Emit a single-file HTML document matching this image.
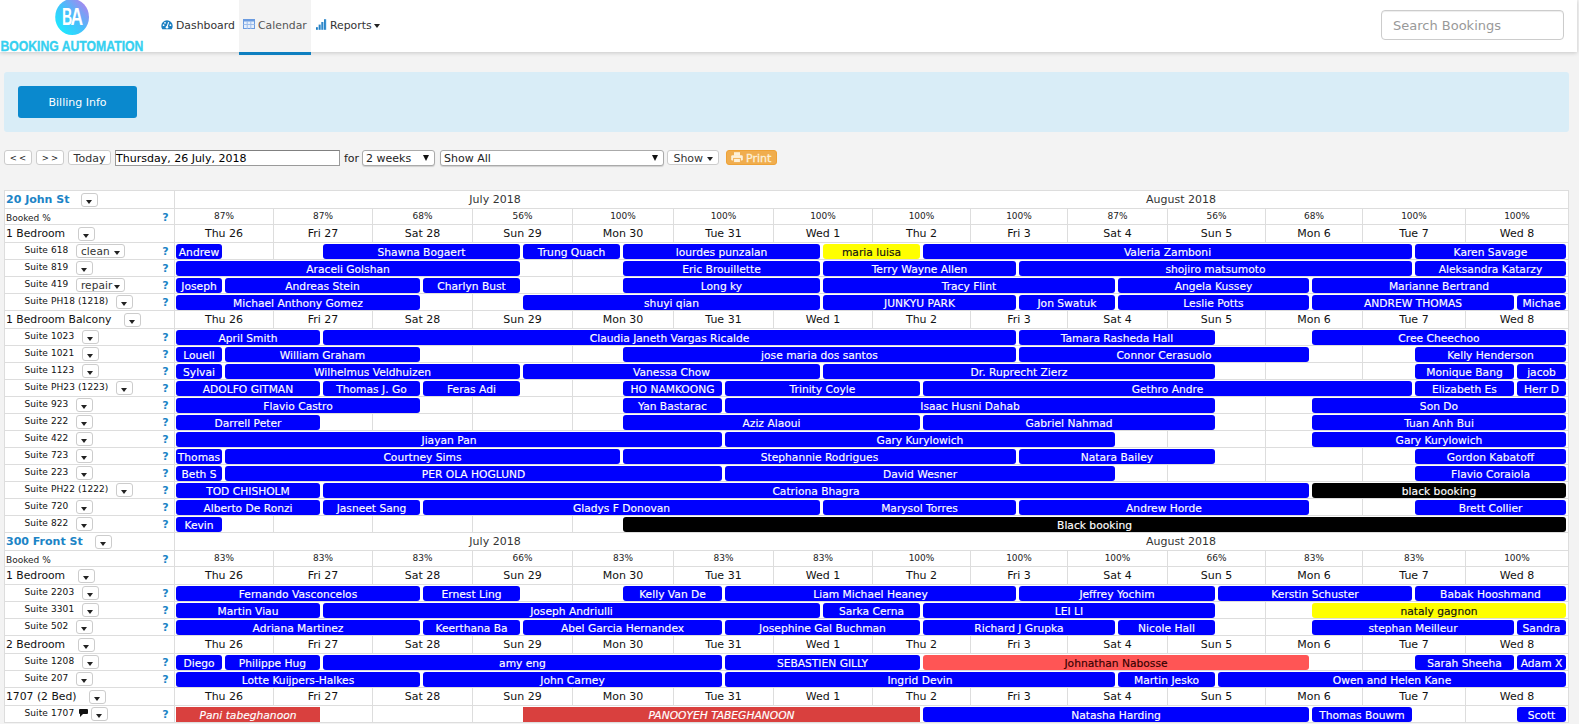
<!DOCTYPE html>
<html lang="en">
<head>
<meta charset="utf-8">
<title>Booking Automation - Calendar</title>
<style>
*{box-sizing:border-box;margin:0;padding:0}
html,body{width:1579px;height:724px;overflow:hidden;background:#f3f3f3}
body{font-family:"DejaVu Sans","Liberation Sans",sans-serif;font-size:11px;color:#000;position:relative}
#pg{position:absolute;left:0;top:0;width:1579px;height:724px;overflow:hidden}
#pg div,#pg svg.ab{position:absolute}
.hdr{left:0;top:0;width:1577px;height:52px;background:#fff;box-shadow:0 1px 4px rgba(0,0,0,.18)}
.tab{left:239px;top:0;width:72px;height:55px;background:#f3f3f3;border-bottom:3px solid #0e7fc0}
.nav{top:19px;height:14px;line-height:14px;font-size:10.85px;color:#333;white-space:nowrap}
.srch{left:1381px;top:10px;width:183px;height:30px;border:1px solid #ccc;border-radius:4px;background:#fff;box-shadow:inset 0 1px 1px rgba(0,0,0,.075);font-size:13px;color:#999;line-height:30px;padding-left:11px}
.info{left:4px;top:72px;width:1565px;height:60px;background:#d9edf7;border-radius:3px}
.bill{left:18px;top:86px;width:119px;height:32px;background:#0a89ce;border-radius:3px;color:#fff;font-size:11px;line-height:34px;text-align:center}
.tb{top:150px;height:15px;background:#fff;border:1px solid #ccc;border-radius:3px;font-size:11px;line-height:15px;text-align:center;color:#333;white-space:nowrap}
.sel{top:150px;height:16px;background:#fff;border:1px solid #aaa;border-radius:3px;font-size:11px;line-height:15px;color:#222;padding-left:3px;white-space:nowrap;box-shadow:0 1px 1px rgba(0,0,0,.15)}
.sel:after{content:"";position:absolute;right:5px;top:3.5px;border-left:3px solid transparent;border-right:3px solid transparent;border-top:6px solid #111}
.inp{left:115px;top:150px;width:225px;height:16px;background:#fff;border:1px solid #9a9a9a;border-top-color:#808080;font-size:11px;line-height:15px;padding-left:0;color:#000}
.tbl{background:#fff;border-left:1px solid #ddd;border-right:1px solid #ddd}
.hl{left:4px;width:1565px;height:1px;background:#ddd}
.vl{width:1px;background:#ddd}
.lc{left:5px;width:169px;white-space:nowrap;overflow:hidden}
.lc span{vertical-align:middle}
.prop{padding-left:1px;font-weight:bold;color:#1c84c6;font-size:11px}
.bk{padding-left:1px;font-size:9px;color:#222}
.cat{padding-left:1px;font-size:10.8px;color:#111}
.su{padding-left:19.5px;font-size:9px;letter-spacing:0.1px;color:#111}
.q{left:159px;width:13px;text-align:center;font-weight:bold;color:#1c84c6;font-size:11px}
.mon{height:17px;line-height:17px;text-align:center;font-size:11px;color:#333}
.pc{height:15px;line-height:14px;text-align:center;font-size:9px;color:#222}
.dc2{height:17px;line-height:18px;text-align:center;font-size:11px;color:#111}
.vl0{left:174px;width:1px;background:#ddd}
.dd{display:inline-block;vertical-align:middle;height:14px;width:17px;border:1px solid #ccc;border-radius:3px;background:#fff;font-weight:normal;text-align:left;color:#333;position:relative;line-height:11px}
.dp{margin-left:12px;top:1px}
.dc{margin-left:12.5px}
.dc .ct{top:6.5px}
.ds{top:0.5px;margin-left:7.5px;font-size:10.5px;line-height:12px}
.ds.pw{margin-left:8px}
.ds.ci{margin-left:3px}
.dt{width:49px;padding-left:4px}
.ct{display:inline-block;width:0;height:0;border-left:3.3px solid transparent;border-right:3.3px solid transparent;border-top:4px solid #222;vertical-align:middle}
.dd .ct{position:absolute;left:4px;top:6px}
.dt .ct{left:auto;right:4px}
.cm{display:inline-block;vertical-align:middle;width:8.5px;height:5.5px;background:#111;margin-left:5px;position:relative;top:-2px;border-radius:1px}
.cm:after{content:"";position:absolute;left:1px;top:5px;border-left:0 solid transparent;border-right:3px solid transparent;border-top:3px solid #111}
.bar{box-shadow:0 0 0 1px #fff;height:15px;line-height:17px;border-radius:3px;color:#fff;-webkit-text-stroke:0.15px currentColor;text-align:center;font-size:10.7px;white-space:nowrap;overflow:hidden}
.b{background:#0000fe}
.y{background:#ffff00;color:#111}
.k{background:#000}
.s{background:#ff5555;color:#300}
.r{background:#d9403e;border-radius:0;font-style:italic}
</style>
</head>
<body>
<div id="pg">
<!--HEADER-->
<div class="hdr"></div>
<div class="tab"></div>
<svg class="ab" style="left:54px;top:0px" width="37" height="37" viewBox="54 0 37 37">
<defs><linearGradient id="lg" x1="0.2" y1="0.9" x2="0.95" y2="0.2"><stop offset="0" stop-color="#1fe6ff"/><stop offset="0.5" stop-color="#48bdfb"/><stop offset="1" stop-color="#a688ef"/></linearGradient></defs>
<ellipse cx="72.1" cy="17" rx="16.9" ry="18.1" fill="url(#lg)"/>
<text x="61.9" y="24.7" font-family="Liberation Sans,sans-serif" font-weight="bold" font-size="23" fill="#fff" textLength="10.2" lengthAdjust="spacingAndGlyphs">B</text>
<text x="70.6" y="24.7" font-family="Liberation Sans,sans-serif" font-weight="bold" font-size="23" fill="#fff" textLength="12.6" lengthAdjust="spacingAndGlyphs">A</text>
</svg>
<svg class="ab" style="left:0;top:36px" width="150" height="18" viewBox="0 0 150 18"><text x="0.4" y="14.8" font-family="Liberation Sans,sans-serif" font-weight="bold" font-size="14.6" fill="#36d0f0" stroke="#36d0f0" stroke-width="0.35" textLength="143" lengthAdjust="spacingAndGlyphs">BOOKING AUTOMATION</text></svg>
<svg class="ab" style="left:161px;top:20px" width="12" height="10" viewBox="0 0 12 10"><path d="M6 0.3a5.7 5.7 0 0 0-5.7 5.7c0 1.2 0.4 2.4 1 3.3h9.4c0.6-0.9 1-2.1 1-3.3A5.7 5.7 0 0 0 6 0.3z" fill="#1a7fc1"/><circle cx="2.6" cy="5.2" r="0.9" fill="#fff"/><circle cx="4" cy="2.8" r="0.9" fill="#fff"/><circle cx="9.4" cy="5.2" r="0.9" fill="#fff"/><path d="M7.6 2.2 L6.2 6.4" stroke="#fff" stroke-width="1.1"/><circle cx="6" cy="7.2" r="1.3" fill="#fff"/></svg>
<div class="nav" style="left:176px">Dashboard</div>
<svg class="ab" style="left:243px;top:19px" width="12" height="10" viewBox="0 0 12 10"><rect x="0.5" y="0.5" width="11" height="9" fill="#e6effb" stroke="#6b9be0"/><rect x="0.5" y="0.5" width="11" height="2" fill="#6b9be0"/><path d="M0.5 5.5h11M4.2 2v8M7.8 2v8" stroke="#9dbdec" stroke-width="1" fill="none"/></svg>
<div class="nav" style="left:258px;color:#555">Calendar</div>
<svg class="ab" style="left:316px;top:19px" width="11" height="11" viewBox="0 0 11 11"><defs><linearGradient id="bg2" x1="0" y1="0" x2="1" y2="0"><stop offset="0" stop-color="#0f6cb0"/><stop offset="1" stop-color="#4aa3e6"/></linearGradient></defs><rect x="0" y="8.2" width="2.1" height="2.6" fill="url(#bg2)"/><rect x="2.7" y="5.6" width="2.1" height="5.2" fill="url(#bg2)"/><rect x="5.4" y="3" width="2.1" height="7.8" fill="url(#bg2)"/><rect x="8.1" y="0.2" width="2.1" height="10.6" fill="url(#bg2)"/></svg>
<div class="nav" style="left:330px">Reports</div>
<div style="left:373.5px;top:24px;width:0;height:0;border-left:3.2px solid transparent;border-right:3.2px solid transparent;border-top:4px solid #222"></div>
<div class="srch">Search Bookings</div>
<!--INFO-->
<div class="info"></div>
<div class="bill">Billing Info</div>
<!--TOOLBAR-->
<div class="tb" style="left:4px;width:28px;font-size:8.5px;letter-spacing:2.2px;padding-left:2px;line-height:14px;color:#222">&lt;&lt;</div>
<div class="tb" style="left:36px;width:28px;font-size:8.5px;letter-spacing:2.2px;padding-left:2px;line-height:14px;color:#222">&gt;&gt;</div>
<div class="tb" style="left:68px;width:43px">Today</div>
<div class="inp">Thursday, 26 July, 2018</div>
<div style="left:344px;top:150px;height:17px;line-height:17px;font-size:11px;color:#222">for</div>
<div class="sel" style="left:362px;width:73px">2 weeks</div>
<div class="sel" style="left:440px;width:224px">Show All</div>
<div class="tb" style="left:667px;width:52px">Show <i class="ct" style="margin-top:0"></i></div>
<div class="tb" style="left:726px;width:51px;background:#f0ad4e;border-color:#eea236;color:#fdf0d8;text-align:left;padding-left:19px;-webkit-text-stroke:0.3px #fdf0d8">Print
<svg class="ab" style="left:4px;top:1px" width="12" height="11" viewBox="0 0 12 11"><rect x="3" y="0.2" width="6" height="3.6" fill="#fdf0d8"/><rect x="0.2" y="3.2" width="11.6" height="5.3" rx="1.2" fill="#fdf0d8"/><rect x="2.6" y="6.4" width="6.8" height="4.2" fill="#fdf0d8" stroke="#f0ad4e" stroke-width="0.9"/></svg></div>
<!--TABLE-->
<div class="tbl" style="left:4px;top:190px;width:1565px;height:533px"></div>
<div class="vl0" style="top:190px;height:533px"></div>
<div class="hl" style="top:190px"></div>
<div class="lc prop" style="top:191px;height:17px;line-height:15px"><span>20 John St</span><b class="dd dp"><i class="ct"></i></b></div>
<div class="mon" style="top:191px;left:440px;width:110px">July 2018</div>
<div class="mon" style="top:191px;left:1121px;width:120px">August 2018</div>
<div class="hl" style="top:208px"></div>
<div class="lc bk" style="top:209px;height:15px;line-height:18px">Booked %</div>
<div class="q" style="top:209px;line-height:18px">?</div>
<div class="pc" style="top:209px;left:175px;width:98px">87%</div>
<div class="vl" style="top:209px;left:273px;height:15px"></div>
<div class="pc" style="top:209px;left:274px;width:98px">87%</div>
<div class="vl" style="top:209px;left:372px;height:15px"></div>
<div class="pc" style="top:209px;left:373px;width:99px">68%</div>
<div class="vl" style="top:209px;left:472px;height:15px"></div>
<div class="pc" style="top:209px;left:473px;width:99px">56%</div>
<div class="vl" style="top:209px;left:572px;height:15px"></div>
<div class="pc" style="top:209px;left:573px;width:100px">100%</div>
<div class="vl" style="top:209px;left:673px;height:15px"></div>
<div class="pc" style="top:209px;left:674px;width:99px">100%</div>
<div class="vl" style="top:209px;left:773px;height:15px"></div>
<div class="pc" style="top:209px;left:774px;width:98px">100%</div>
<div class="vl" style="top:209px;left:872px;height:15px"></div>
<div class="pc" style="top:209px;left:873px;width:97px">100%</div>
<div class="vl" style="top:209px;left:970px;height:15px"></div>
<div class="pc" style="top:209px;left:971px;width:96px">100%</div>
<div class="vl" style="top:209px;left:1067px;height:15px"></div>
<div class="pc" style="top:209px;left:1068px;width:99px">87%</div>
<div class="vl" style="top:209px;left:1167px;height:15px"></div>
<div class="pc" style="top:209px;left:1168px;width:97px">56%</div>
<div class="vl" style="top:209px;left:1265px;height:15px"></div>
<div class="pc" style="top:209px;left:1266px;width:96px">68%</div>
<div class="vl" style="top:209px;left:1362px;height:15px"></div>
<div class="pc" style="top:209px;left:1363px;width:102px">100%</div>
<div class="vl" style="top:209px;left:1465px;height:15px"></div>
<div class="pc" style="top:209px;left:1466px;width:102px">100%</div>
<div class="vl" style="top:209px;left:-10px;height:15px"></div>
<div class="hl" style="top:224px"></div>
<div class="lc cat" style="top:225px;height:17px;line-height:18px"><span>1 Bedroom</span><b class="dd dc"><i class="ct"></i></b></div>
<div class="dc2" style="top:225px;left:175px;width:98px">Thu 26</div>
<div class="vl" style="top:225px;left:273px;height:17px"></div>
<div class="dc2" style="top:225px;left:274px;width:98px">Fri 27</div>
<div class="vl" style="top:225px;left:372px;height:17px"></div>
<div class="dc2" style="top:225px;left:373px;width:99px">Sat 28</div>
<div class="vl" style="top:225px;left:472px;height:17px"></div>
<div class="dc2" style="top:225px;left:473px;width:99px">Sun 29</div>
<div class="vl" style="top:225px;left:572px;height:17px"></div>
<div class="dc2" style="top:225px;left:573px;width:100px">Mon 30</div>
<div class="vl" style="top:225px;left:673px;height:17px"></div>
<div class="dc2" style="top:225px;left:674px;width:99px">Tue 31</div>
<div class="vl" style="top:225px;left:773px;height:17px"></div>
<div class="dc2" style="top:225px;left:774px;width:98px">Wed 1</div>
<div class="vl" style="top:225px;left:872px;height:17px"></div>
<div class="dc2" style="top:225px;left:873px;width:97px">Thu 2</div>
<div class="vl" style="top:225px;left:970px;height:17px"></div>
<div class="dc2" style="top:225px;left:971px;width:96px">Fri 3</div>
<div class="vl" style="top:225px;left:1067px;height:17px"></div>
<div class="dc2" style="top:225px;left:1068px;width:99px">Sat 4</div>
<div class="vl" style="top:225px;left:1167px;height:17px"></div>
<div class="dc2" style="top:225px;left:1168px;width:97px">Sun 5</div>
<div class="vl" style="top:225px;left:1265px;height:17px"></div>
<div class="dc2" style="top:225px;left:1266px;width:96px">Mon 6</div>
<div class="vl" style="top:225px;left:1362px;height:17px"></div>
<div class="dc2" style="top:225px;left:1363px;width:102px">Tue 7</div>
<div class="vl" style="top:225px;left:1465px;height:17px"></div>
<div class="dc2" style="top:225px;left:1466px;width:102px">Wed 8</div>
<div class="hl" style="top:242px"></div>
<div class="lc su" style="top:243px;height:16px;line-height:15px"><span>Suite 618</span><b class="dd ds dt">clean<i class="ct"></i></b></div>
<div class="q" style="top:243px;line-height:17px">?</div>
<div class="vl" style="top:243px;left:273px;height:16px"></div>
<div class="vl" style="top:243px;left:372px;height:16px"></div>
<div class="vl" style="top:243px;left:472px;height:16px"></div>
<div class="vl" style="top:243px;left:572px;height:16px"></div>
<div class="vl" style="top:243px;left:673px;height:16px"></div>
<div class="vl" style="top:243px;left:773px;height:16px"></div>
<div class="vl" style="top:243px;left:872px;height:16px"></div>
<div class="vl" style="top:243px;left:970px;height:16px"></div>
<div class="vl" style="top:243px;left:1067px;height:16px"></div>
<div class="vl" style="top:243px;left:1167px;height:16px"></div>
<div class="vl" style="top:243px;left:1265px;height:16px"></div>
<div class="vl" style="top:243px;left:1362px;height:16px"></div>
<div class="vl" style="top:243px;left:1465px;height:16px"></div>
<div class="bar b" style="top:244px;left:176px;width:46px">Andrew</div>
<div class="bar b" style="top:244px;left:323px;width:197px">Shawna Bogaert</div>
<div class="bar b" style="top:244px;left:523px;width:97px">Trung Quach</div>
<div class="bar b" style="top:244px;left:623px;width:197px">lourdes punzalan</div>
<div class="bar y" style="top:244px;left:823px;width:97px">maria luisa</div>
<div class="bar b" style="top:244px;left:923px;width:489px">Valeria Zamboni</div>
<div class="bar b" style="top:244px;left:1415px;width:151px">Karen Savage</div>
<div class="hl" style="top:259px"></div>
<div class="lc su" style="top:260px;height:16px;line-height:15px"><span>Suite 819</span><b class="dd ds"><i class="ct"></i></b></div>
<div class="q" style="top:260px;line-height:17px">?</div>
<div class="vl" style="top:260px;left:273px;height:16px"></div>
<div class="vl" style="top:260px;left:372px;height:16px"></div>
<div class="vl" style="top:260px;left:472px;height:16px"></div>
<div class="vl" style="top:260px;left:572px;height:16px"></div>
<div class="vl" style="top:260px;left:673px;height:16px"></div>
<div class="vl" style="top:260px;left:773px;height:16px"></div>
<div class="vl" style="top:260px;left:872px;height:16px"></div>
<div class="vl" style="top:260px;left:970px;height:16px"></div>
<div class="vl" style="top:260px;left:1067px;height:16px"></div>
<div class="vl" style="top:260px;left:1167px;height:16px"></div>
<div class="vl" style="top:260px;left:1265px;height:16px"></div>
<div class="vl" style="top:260px;left:1362px;height:16px"></div>
<div class="vl" style="top:260px;left:1465px;height:16px"></div>
<div class="bar b" style="top:261px;left:176px;width:344px">Araceli Golshan</div>
<div class="bar b" style="top:261px;left:623px;width:197px">Eric Brouillette</div>
<div class="bar b" style="top:261px;left:823px;width:193px">Terry Wayne Allen</div>
<div class="bar b" style="top:261px;left:1019px;width:393px">shojiro matsumoto</div>
<div class="bar b" style="top:261px;left:1415px;width:151px">Aleksandra Katarzy</div>
<div class="hl" style="top:276px"></div>
<div class="lc su" style="top:277px;height:16px;line-height:15px"><span>Suite 419</span><b class="dd ds dt">repair<i class="ct"></i></b></div>
<div class="q" style="top:277px;line-height:17px">?</div>
<div class="vl" style="top:277px;left:273px;height:16px"></div>
<div class="vl" style="top:277px;left:372px;height:16px"></div>
<div class="vl" style="top:277px;left:472px;height:16px"></div>
<div class="vl" style="top:277px;left:572px;height:16px"></div>
<div class="vl" style="top:277px;left:673px;height:16px"></div>
<div class="vl" style="top:277px;left:773px;height:16px"></div>
<div class="vl" style="top:277px;left:872px;height:16px"></div>
<div class="vl" style="top:277px;left:970px;height:16px"></div>
<div class="vl" style="top:277px;left:1067px;height:16px"></div>
<div class="vl" style="top:277px;left:1167px;height:16px"></div>
<div class="vl" style="top:277px;left:1265px;height:16px"></div>
<div class="vl" style="top:277px;left:1362px;height:16px"></div>
<div class="vl" style="top:277px;left:1465px;height:16px"></div>
<div class="bar b" style="top:278px;left:176px;width:46px">Joseph</div>
<div class="bar b" style="top:278px;left:225px;width:195px">Andreas Stein</div>
<div class="bar b" style="top:278px;left:423px;width:97px">Charlyn Bust</div>
<div class="bar b" style="top:278px;left:623px;width:197px">Long ky</div>
<div class="bar b" style="top:278px;left:823px;width:292px">Tracy Flint</div>
<div class="bar b" style="top:278px;left:1118px;width:191px">Angela Kussey</div>
<div class="bar b" style="top:278px;left:1312px;width:254px">Marianne Bertrand</div>
<div class="hl" style="top:293px"></div>
<div class="lc su" style="top:294px;height:16px;line-height:15px"><span>Suite PH18 (1218)</span><b class="dd ds pw"><i class="ct"></i></b></div>
<div class="q" style="top:294px;line-height:17px">?</div>
<div class="vl" style="top:294px;left:273px;height:16px"></div>
<div class="vl" style="top:294px;left:372px;height:16px"></div>
<div class="vl" style="top:294px;left:472px;height:16px"></div>
<div class="vl" style="top:294px;left:572px;height:16px"></div>
<div class="vl" style="top:294px;left:673px;height:16px"></div>
<div class="vl" style="top:294px;left:773px;height:16px"></div>
<div class="vl" style="top:294px;left:872px;height:16px"></div>
<div class="vl" style="top:294px;left:970px;height:16px"></div>
<div class="vl" style="top:294px;left:1067px;height:16px"></div>
<div class="vl" style="top:294px;left:1167px;height:16px"></div>
<div class="vl" style="top:294px;left:1265px;height:16px"></div>
<div class="vl" style="top:294px;left:1362px;height:16px"></div>
<div class="vl" style="top:294px;left:1465px;height:16px"></div>
<div class="bar b" style="top:295px;left:176px;width:244px">Michael Anthony Gomez</div>
<div class="bar b" style="top:295px;left:523px;width:297px">shuyi qian</div>
<div class="bar b" style="top:295px;left:823px;width:193px">JUNKYU PARK</div>
<div class="bar b" style="top:295px;left:1019px;width:96px">Jon Swatuk</div>
<div class="bar b" style="top:295px;left:1118px;width:191px">Leslie Potts</div>
<div class="bar b" style="top:295px;left:1312px;width:202px">ANDREW THOMAS</div>
<div class="bar b" style="top:295px;left:1517px;width:49px">Michae</div>
<div class="hl" style="top:310px"></div>
<div class="lc cat" style="top:311px;height:17px;line-height:18px"><span>1 Bedroom Balcony</span><b class="dd dc"><i class="ct"></i></b></div>
<div class="dc2" style="top:311px;left:175px;width:98px">Thu 26</div>
<div class="vl" style="top:311px;left:273px;height:17px"></div>
<div class="dc2" style="top:311px;left:274px;width:98px">Fri 27</div>
<div class="vl" style="top:311px;left:372px;height:17px"></div>
<div class="dc2" style="top:311px;left:373px;width:99px">Sat 28</div>
<div class="vl" style="top:311px;left:472px;height:17px"></div>
<div class="dc2" style="top:311px;left:473px;width:99px">Sun 29</div>
<div class="vl" style="top:311px;left:572px;height:17px"></div>
<div class="dc2" style="top:311px;left:573px;width:100px">Mon 30</div>
<div class="vl" style="top:311px;left:673px;height:17px"></div>
<div class="dc2" style="top:311px;left:674px;width:99px">Tue 31</div>
<div class="vl" style="top:311px;left:773px;height:17px"></div>
<div class="dc2" style="top:311px;left:774px;width:98px">Wed 1</div>
<div class="vl" style="top:311px;left:872px;height:17px"></div>
<div class="dc2" style="top:311px;left:873px;width:97px">Thu 2</div>
<div class="vl" style="top:311px;left:970px;height:17px"></div>
<div class="dc2" style="top:311px;left:971px;width:96px">Fri 3</div>
<div class="vl" style="top:311px;left:1067px;height:17px"></div>
<div class="dc2" style="top:311px;left:1068px;width:99px">Sat 4</div>
<div class="vl" style="top:311px;left:1167px;height:17px"></div>
<div class="dc2" style="top:311px;left:1168px;width:97px">Sun 5</div>
<div class="vl" style="top:311px;left:1265px;height:17px"></div>
<div class="dc2" style="top:311px;left:1266px;width:96px">Mon 6</div>
<div class="vl" style="top:311px;left:1362px;height:17px"></div>
<div class="dc2" style="top:311px;left:1363px;width:102px">Tue 7</div>
<div class="vl" style="top:311px;left:1465px;height:17px"></div>
<div class="dc2" style="top:311px;left:1466px;width:102px">Wed 8</div>
<div class="hl" style="top:328px"></div>
<div class="lc su" style="top:329px;height:16px;line-height:15px"><span>Suite 1023</span><b class="dd ds"><i class="ct"></i></b></div>
<div class="q" style="top:329px;line-height:17px">?</div>
<div class="vl" style="top:329px;left:273px;height:16px"></div>
<div class="vl" style="top:329px;left:372px;height:16px"></div>
<div class="vl" style="top:329px;left:472px;height:16px"></div>
<div class="vl" style="top:329px;left:572px;height:16px"></div>
<div class="vl" style="top:329px;left:673px;height:16px"></div>
<div class="vl" style="top:329px;left:773px;height:16px"></div>
<div class="vl" style="top:329px;left:872px;height:16px"></div>
<div class="vl" style="top:329px;left:970px;height:16px"></div>
<div class="vl" style="top:329px;left:1067px;height:16px"></div>
<div class="vl" style="top:329px;left:1167px;height:16px"></div>
<div class="vl" style="top:329px;left:1265px;height:16px"></div>
<div class="vl" style="top:329px;left:1362px;height:16px"></div>
<div class="vl" style="top:329px;left:1465px;height:16px"></div>
<div class="bar b" style="top:330px;left:176px;width:144px">April Smith</div>
<div class="bar b" style="top:330px;left:323px;width:693px">Claudia Janeth Vargas Ricalde</div>
<div class="bar b" style="top:330px;left:1019px;width:196px">Tamara Rasheda Hall</div>
<div class="bar b" style="top:330px;left:1312px;width:254px">Cree Cheechoo</div>
<div class="hl" style="top:345px"></div>
<div class="lc su" style="top:346px;height:16px;line-height:15px"><span>Suite 1021</span><b class="dd ds"><i class="ct"></i></b></div>
<div class="q" style="top:346px;line-height:17px">?</div>
<div class="vl" style="top:346px;left:273px;height:16px"></div>
<div class="vl" style="top:346px;left:372px;height:16px"></div>
<div class="vl" style="top:346px;left:472px;height:16px"></div>
<div class="vl" style="top:346px;left:572px;height:16px"></div>
<div class="vl" style="top:346px;left:673px;height:16px"></div>
<div class="vl" style="top:346px;left:773px;height:16px"></div>
<div class="vl" style="top:346px;left:872px;height:16px"></div>
<div class="vl" style="top:346px;left:970px;height:16px"></div>
<div class="vl" style="top:346px;left:1067px;height:16px"></div>
<div class="vl" style="top:346px;left:1167px;height:16px"></div>
<div class="vl" style="top:346px;left:1265px;height:16px"></div>
<div class="vl" style="top:346px;left:1362px;height:16px"></div>
<div class="vl" style="top:346px;left:1465px;height:16px"></div>
<div class="bar b" style="top:347px;left:176px;width:46px">Louell</div>
<div class="bar b" style="top:347px;left:225px;width:195px">William Graham</div>
<div class="bar b" style="top:347px;left:623px;width:393px">jose maria dos santos</div>
<div class="bar b" style="top:347px;left:1019px;width:290px">Connor Cerasuolo</div>
<div class="bar b" style="top:347px;left:1415px;width:151px">Kelly Henderson</div>
<div class="hl" style="top:362px"></div>
<div class="lc su" style="top:363px;height:16px;line-height:15px"><span>Suite 1123</span><b class="dd ds"><i class="ct"></i></b></div>
<div class="q" style="top:363px;line-height:17px">?</div>
<div class="vl" style="top:363px;left:273px;height:16px"></div>
<div class="vl" style="top:363px;left:372px;height:16px"></div>
<div class="vl" style="top:363px;left:472px;height:16px"></div>
<div class="vl" style="top:363px;left:572px;height:16px"></div>
<div class="vl" style="top:363px;left:673px;height:16px"></div>
<div class="vl" style="top:363px;left:773px;height:16px"></div>
<div class="vl" style="top:363px;left:872px;height:16px"></div>
<div class="vl" style="top:363px;left:970px;height:16px"></div>
<div class="vl" style="top:363px;left:1067px;height:16px"></div>
<div class="vl" style="top:363px;left:1167px;height:16px"></div>
<div class="vl" style="top:363px;left:1265px;height:16px"></div>
<div class="vl" style="top:363px;left:1362px;height:16px"></div>
<div class="vl" style="top:363px;left:1465px;height:16px"></div>
<div class="bar b" style="top:364px;left:176px;width:46px">Sylvai</div>
<div class="bar b" style="top:364px;left:225px;width:295px">Wilhelmus Veldhuizen</div>
<div class="bar b" style="top:364px;left:523px;width:297px">Vanessa Chow</div>
<div class="bar b" style="top:364px;left:823px;width:392px">Dr. Ruprecht Zierz</div>
<div class="bar b" style="top:364px;left:1415px;width:99px">Monique Bang</div>
<div class="bar b" style="top:364px;left:1517px;width:49px">jacob</div>
<div class="hl" style="top:379px"></div>
<div class="lc su" style="top:380px;height:16px;line-height:15px"><span>Suite PH23 (1223)</span><b class="dd ds pw"><i class="ct"></i></b></div>
<div class="q" style="top:380px;line-height:17px">?</div>
<div class="vl" style="top:380px;left:273px;height:16px"></div>
<div class="vl" style="top:380px;left:372px;height:16px"></div>
<div class="vl" style="top:380px;left:472px;height:16px"></div>
<div class="vl" style="top:380px;left:572px;height:16px"></div>
<div class="vl" style="top:380px;left:673px;height:16px"></div>
<div class="vl" style="top:380px;left:773px;height:16px"></div>
<div class="vl" style="top:380px;left:872px;height:16px"></div>
<div class="vl" style="top:380px;left:970px;height:16px"></div>
<div class="vl" style="top:380px;left:1067px;height:16px"></div>
<div class="vl" style="top:380px;left:1167px;height:16px"></div>
<div class="vl" style="top:380px;left:1265px;height:16px"></div>
<div class="vl" style="top:380px;left:1362px;height:16px"></div>
<div class="vl" style="top:380px;left:1465px;height:16px"></div>
<div class="bar b" style="top:381px;left:176px;width:144px">ADOLFO GITMAN</div>
<div class="bar b" style="top:381px;left:323px;width:97px">Thomas J. Go</div>
<div class="bar b" style="top:381px;left:423px;width:97px">Feras Adi</div>
<div class="bar b" style="top:381px;left:623px;width:99px">HO NAMKOONG</div>
<div class="bar b" style="top:381px;left:725px;width:195px">Trinity Coyle</div>
<div class="bar b" style="top:381px;left:923px;width:489px">Gethro Andre</div>
<div class="bar b" style="top:381px;left:1415px;width:99px">Elizabeth Es</div>
<div class="bar b" style="top:381px;left:1517px;width:49px">Herr D</div>
<div class="hl" style="top:396px"></div>
<div class="lc su" style="top:397px;height:16px;line-height:15px"><span>Suite 923</span><b class="dd ds"><i class="ct"></i></b></div>
<div class="q" style="top:397px;line-height:17px">?</div>
<div class="vl" style="top:397px;left:273px;height:16px"></div>
<div class="vl" style="top:397px;left:372px;height:16px"></div>
<div class="vl" style="top:397px;left:472px;height:16px"></div>
<div class="vl" style="top:397px;left:572px;height:16px"></div>
<div class="vl" style="top:397px;left:673px;height:16px"></div>
<div class="vl" style="top:397px;left:773px;height:16px"></div>
<div class="vl" style="top:397px;left:872px;height:16px"></div>
<div class="vl" style="top:397px;left:970px;height:16px"></div>
<div class="vl" style="top:397px;left:1067px;height:16px"></div>
<div class="vl" style="top:397px;left:1167px;height:16px"></div>
<div class="vl" style="top:397px;left:1265px;height:16px"></div>
<div class="vl" style="top:397px;left:1362px;height:16px"></div>
<div class="vl" style="top:397px;left:1465px;height:16px"></div>
<div class="bar b" style="top:398px;left:176px;width:244px">Flavio Castro</div>
<div class="bar b" style="top:398px;left:623px;width:99px">Yan Bastarac</div>
<div class="bar b" style="top:398px;left:725px;width:490px">Isaac Husni Dahab</div>
<div class="bar b" style="top:398px;left:1312px;width:254px">Son Do</div>
<div class="hl" style="top:413px"></div>
<div class="lc su" style="top:414px;height:16px;line-height:15px"><span>Suite 222</span><b class="dd ds"><i class="ct"></i></b></div>
<div class="q" style="top:414px;line-height:17px">?</div>
<div class="vl" style="top:414px;left:273px;height:16px"></div>
<div class="vl" style="top:414px;left:372px;height:16px"></div>
<div class="vl" style="top:414px;left:472px;height:16px"></div>
<div class="vl" style="top:414px;left:572px;height:16px"></div>
<div class="vl" style="top:414px;left:673px;height:16px"></div>
<div class="vl" style="top:414px;left:773px;height:16px"></div>
<div class="vl" style="top:414px;left:872px;height:16px"></div>
<div class="vl" style="top:414px;left:970px;height:16px"></div>
<div class="vl" style="top:414px;left:1067px;height:16px"></div>
<div class="vl" style="top:414px;left:1167px;height:16px"></div>
<div class="vl" style="top:414px;left:1265px;height:16px"></div>
<div class="vl" style="top:414px;left:1362px;height:16px"></div>
<div class="vl" style="top:414px;left:1465px;height:16px"></div>
<div class="bar b" style="top:415px;left:176px;width:144px">Darrell Peter</div>
<div class="bar b" style="top:415px;left:623px;width:297px">Aziz Alaoui</div>
<div class="bar b" style="top:415px;left:923px;width:292px">Gabriel Nahmad</div>
<div class="bar b" style="top:415px;left:1312px;width:254px">Tuan Anh Bui</div>
<div class="hl" style="top:430px"></div>
<div class="lc su" style="top:431px;height:16px;line-height:15px"><span>Suite 422</span><b class="dd ds"><i class="ct"></i></b></div>
<div class="q" style="top:431px;line-height:17px">?</div>
<div class="vl" style="top:431px;left:273px;height:16px"></div>
<div class="vl" style="top:431px;left:372px;height:16px"></div>
<div class="vl" style="top:431px;left:472px;height:16px"></div>
<div class="vl" style="top:431px;left:572px;height:16px"></div>
<div class="vl" style="top:431px;left:673px;height:16px"></div>
<div class="vl" style="top:431px;left:773px;height:16px"></div>
<div class="vl" style="top:431px;left:872px;height:16px"></div>
<div class="vl" style="top:431px;left:970px;height:16px"></div>
<div class="vl" style="top:431px;left:1067px;height:16px"></div>
<div class="vl" style="top:431px;left:1167px;height:16px"></div>
<div class="vl" style="top:431px;left:1265px;height:16px"></div>
<div class="vl" style="top:431px;left:1362px;height:16px"></div>
<div class="vl" style="top:431px;left:1465px;height:16px"></div>
<div class="bar b" style="top:432px;left:176px;width:546px">Jiayan Pan</div>
<div class="bar b" style="top:432px;left:725px;width:390px">Gary Kurylowich</div>
<div class="bar b" style="top:432px;left:1312px;width:254px">Gary Kurylowich</div>
<div class="hl" style="top:447px"></div>
<div class="lc su" style="top:448px;height:16px;line-height:15px"><span>Suite 723</span><b class="dd ds"><i class="ct"></i></b></div>
<div class="q" style="top:448px;line-height:17px">?</div>
<div class="vl" style="top:448px;left:273px;height:16px"></div>
<div class="vl" style="top:448px;left:372px;height:16px"></div>
<div class="vl" style="top:448px;left:472px;height:16px"></div>
<div class="vl" style="top:448px;left:572px;height:16px"></div>
<div class="vl" style="top:448px;left:673px;height:16px"></div>
<div class="vl" style="top:448px;left:773px;height:16px"></div>
<div class="vl" style="top:448px;left:872px;height:16px"></div>
<div class="vl" style="top:448px;left:970px;height:16px"></div>
<div class="vl" style="top:448px;left:1067px;height:16px"></div>
<div class="vl" style="top:448px;left:1167px;height:16px"></div>
<div class="vl" style="top:448px;left:1265px;height:16px"></div>
<div class="vl" style="top:448px;left:1362px;height:16px"></div>
<div class="vl" style="top:448px;left:1465px;height:16px"></div>
<div class="bar b" style="top:449px;left:176px;width:46px">Thomas</div>
<div class="bar b" style="top:449px;left:225px;width:395px">Courtney Sims</div>
<div class="bar b" style="top:449px;left:623px;width:393px">Stephannie Rodrigues</div>
<div class="bar b" style="top:449px;left:1019px;width:196px">Natara Bailey</div>
<div class="bar b" style="top:449px;left:1415px;width:151px">Gordon Kabatoff</div>
<div class="hl" style="top:464px"></div>
<div class="lc su" style="top:465px;height:16px;line-height:15px"><span>Suite 223</span><b class="dd ds"><i class="ct"></i></b></div>
<div class="q" style="top:465px;line-height:17px">?</div>
<div class="vl" style="top:465px;left:273px;height:16px"></div>
<div class="vl" style="top:465px;left:372px;height:16px"></div>
<div class="vl" style="top:465px;left:472px;height:16px"></div>
<div class="vl" style="top:465px;left:572px;height:16px"></div>
<div class="vl" style="top:465px;left:673px;height:16px"></div>
<div class="vl" style="top:465px;left:773px;height:16px"></div>
<div class="vl" style="top:465px;left:872px;height:16px"></div>
<div class="vl" style="top:465px;left:970px;height:16px"></div>
<div class="vl" style="top:465px;left:1067px;height:16px"></div>
<div class="vl" style="top:465px;left:1167px;height:16px"></div>
<div class="vl" style="top:465px;left:1265px;height:16px"></div>
<div class="vl" style="top:465px;left:1362px;height:16px"></div>
<div class="vl" style="top:465px;left:1465px;height:16px"></div>
<div class="bar b" style="top:466px;left:176px;width:46px">Beth S</div>
<div class="bar b" style="top:466px;left:225px;width:497px">PER OLA HOGLUND</div>
<div class="bar b" style="top:466px;left:725px;width:390px">David Wesner</div>
<div class="bar b" style="top:466px;left:1415px;width:151px">Flavio Coraiola</div>
<div class="hl" style="top:481px"></div>
<div class="lc su" style="top:482px;height:16px;line-height:15px"><span>Suite PH22 (1222)</span><b class="dd ds pw"><i class="ct"></i></b></div>
<div class="q" style="top:482px;line-height:17px">?</div>
<div class="vl" style="top:482px;left:273px;height:16px"></div>
<div class="vl" style="top:482px;left:372px;height:16px"></div>
<div class="vl" style="top:482px;left:472px;height:16px"></div>
<div class="vl" style="top:482px;left:572px;height:16px"></div>
<div class="vl" style="top:482px;left:673px;height:16px"></div>
<div class="vl" style="top:482px;left:773px;height:16px"></div>
<div class="vl" style="top:482px;left:872px;height:16px"></div>
<div class="vl" style="top:482px;left:970px;height:16px"></div>
<div class="vl" style="top:482px;left:1067px;height:16px"></div>
<div class="vl" style="top:482px;left:1167px;height:16px"></div>
<div class="vl" style="top:482px;left:1265px;height:16px"></div>
<div class="vl" style="top:482px;left:1362px;height:16px"></div>
<div class="vl" style="top:482px;left:1465px;height:16px"></div>
<div class="bar b" style="top:483px;left:176px;width:144px">TOD CHISHOLM</div>
<div class="bar b" style="top:483px;left:323px;width:986px">Catriona Bhagra</div>
<div class="bar k" style="top:483px;left:1312px;width:254px">black booking</div>
<div class="hl" style="top:498px"></div>
<div class="lc su" style="top:499px;height:16px;line-height:15px"><span>Suite 720</span><b class="dd ds"><i class="ct"></i></b></div>
<div class="q" style="top:499px;line-height:17px">?</div>
<div class="vl" style="top:499px;left:273px;height:16px"></div>
<div class="vl" style="top:499px;left:372px;height:16px"></div>
<div class="vl" style="top:499px;left:472px;height:16px"></div>
<div class="vl" style="top:499px;left:572px;height:16px"></div>
<div class="vl" style="top:499px;left:673px;height:16px"></div>
<div class="vl" style="top:499px;left:773px;height:16px"></div>
<div class="vl" style="top:499px;left:872px;height:16px"></div>
<div class="vl" style="top:499px;left:970px;height:16px"></div>
<div class="vl" style="top:499px;left:1067px;height:16px"></div>
<div class="vl" style="top:499px;left:1167px;height:16px"></div>
<div class="vl" style="top:499px;left:1265px;height:16px"></div>
<div class="vl" style="top:499px;left:1362px;height:16px"></div>
<div class="vl" style="top:499px;left:1465px;height:16px"></div>
<div class="bar b" style="top:500px;left:176px;width:144px">Alberto De Ronzi</div>
<div class="bar b" style="top:500px;left:323px;width:97px">Jasneet Sang</div>
<div class="bar b" style="top:500px;left:423px;width:397px">Gladys F Donovan</div>
<div class="bar b" style="top:500px;left:823px;width:193px">Marysol Torres</div>
<div class="bar b" style="top:500px;left:1019px;width:290px">Andrew Horde</div>
<div class="bar b" style="top:500px;left:1415px;width:151px">Brett Collier</div>
<div class="hl" style="top:515px"></div>
<div class="lc su" style="top:516px;height:16px;line-height:15px"><span>Suite 822</span><b class="dd ds"><i class="ct"></i></b></div>
<div class="q" style="top:516px;line-height:17px">?</div>
<div class="vl" style="top:516px;left:273px;height:16px"></div>
<div class="vl" style="top:516px;left:372px;height:16px"></div>
<div class="vl" style="top:516px;left:472px;height:16px"></div>
<div class="vl" style="top:516px;left:572px;height:16px"></div>
<div class="vl" style="top:516px;left:673px;height:16px"></div>
<div class="vl" style="top:516px;left:773px;height:16px"></div>
<div class="vl" style="top:516px;left:872px;height:16px"></div>
<div class="vl" style="top:516px;left:970px;height:16px"></div>
<div class="vl" style="top:516px;left:1067px;height:16px"></div>
<div class="vl" style="top:516px;left:1167px;height:16px"></div>
<div class="vl" style="top:516px;left:1265px;height:16px"></div>
<div class="vl" style="top:516px;left:1362px;height:16px"></div>
<div class="vl" style="top:516px;left:1465px;height:16px"></div>
<div class="bar b" style="top:517px;left:176px;width:46px">Kevin</div>
<div class="bar k" style="top:517px;left:623px;width:943px">Black booking</div>
<div class="hl" style="top:532px"></div>
<div class="lc prop" style="top:533px;height:17px;line-height:15px"><span>300 Front St</span><b class="dd dp"><i class="ct"></i></b></div>
<div class="mon" style="top:533px;left:440px;width:110px">July 2018</div>
<div class="mon" style="top:533px;left:1121px;width:120px">August 2018</div>
<div class="hl" style="top:550px"></div>
<div class="lc bk" style="top:551px;height:15px;line-height:18px">Booked %</div>
<div class="q" style="top:551px;line-height:18px">?</div>
<div class="pc" style="top:551px;left:175px;width:98px">83%</div>
<div class="vl" style="top:551px;left:273px;height:15px"></div>
<div class="pc" style="top:551px;left:274px;width:98px">83%</div>
<div class="vl" style="top:551px;left:372px;height:15px"></div>
<div class="pc" style="top:551px;left:373px;width:99px">83%</div>
<div class="vl" style="top:551px;left:472px;height:15px"></div>
<div class="pc" style="top:551px;left:473px;width:99px">66%</div>
<div class="vl" style="top:551px;left:572px;height:15px"></div>
<div class="pc" style="top:551px;left:573px;width:100px">83%</div>
<div class="vl" style="top:551px;left:673px;height:15px"></div>
<div class="pc" style="top:551px;left:674px;width:99px">83%</div>
<div class="vl" style="top:551px;left:773px;height:15px"></div>
<div class="pc" style="top:551px;left:774px;width:98px">83%</div>
<div class="vl" style="top:551px;left:872px;height:15px"></div>
<div class="pc" style="top:551px;left:873px;width:97px">100%</div>
<div class="vl" style="top:551px;left:970px;height:15px"></div>
<div class="pc" style="top:551px;left:971px;width:96px">100%</div>
<div class="vl" style="top:551px;left:1067px;height:15px"></div>
<div class="pc" style="top:551px;left:1068px;width:99px">100%</div>
<div class="vl" style="top:551px;left:1167px;height:15px"></div>
<div class="pc" style="top:551px;left:1168px;width:97px">66%</div>
<div class="vl" style="top:551px;left:1265px;height:15px"></div>
<div class="pc" style="top:551px;left:1266px;width:96px">83%</div>
<div class="vl" style="top:551px;left:1362px;height:15px"></div>
<div class="pc" style="top:551px;left:1363px;width:102px">83%</div>
<div class="vl" style="top:551px;left:1465px;height:15px"></div>
<div class="pc" style="top:551px;left:1466px;width:102px">100%</div>
<div class="vl" style="top:551px;left:-10px;height:15px"></div>
<div class="hl" style="top:566px"></div>
<div class="lc cat" style="top:567px;height:17px;line-height:18px"><span>1 Bedroom</span><b class="dd dc"><i class="ct"></i></b></div>
<div class="dc2" style="top:567px;left:175px;width:98px">Thu 26</div>
<div class="vl" style="top:567px;left:273px;height:17px"></div>
<div class="dc2" style="top:567px;left:274px;width:98px">Fri 27</div>
<div class="vl" style="top:567px;left:372px;height:17px"></div>
<div class="dc2" style="top:567px;left:373px;width:99px">Sat 28</div>
<div class="vl" style="top:567px;left:472px;height:17px"></div>
<div class="dc2" style="top:567px;left:473px;width:99px">Sun 29</div>
<div class="vl" style="top:567px;left:572px;height:17px"></div>
<div class="dc2" style="top:567px;left:573px;width:100px">Mon 30</div>
<div class="vl" style="top:567px;left:673px;height:17px"></div>
<div class="dc2" style="top:567px;left:674px;width:99px">Tue 31</div>
<div class="vl" style="top:567px;left:773px;height:17px"></div>
<div class="dc2" style="top:567px;left:774px;width:98px">Wed 1</div>
<div class="vl" style="top:567px;left:872px;height:17px"></div>
<div class="dc2" style="top:567px;left:873px;width:97px">Thu 2</div>
<div class="vl" style="top:567px;left:970px;height:17px"></div>
<div class="dc2" style="top:567px;left:971px;width:96px">Fri 3</div>
<div class="vl" style="top:567px;left:1067px;height:17px"></div>
<div class="dc2" style="top:567px;left:1068px;width:99px">Sat 4</div>
<div class="vl" style="top:567px;left:1167px;height:17px"></div>
<div class="dc2" style="top:567px;left:1168px;width:97px">Sun 5</div>
<div class="vl" style="top:567px;left:1265px;height:17px"></div>
<div class="dc2" style="top:567px;left:1266px;width:96px">Mon 6</div>
<div class="vl" style="top:567px;left:1362px;height:17px"></div>
<div class="dc2" style="top:567px;left:1363px;width:102px">Tue 7</div>
<div class="vl" style="top:567px;left:1465px;height:17px"></div>
<div class="dc2" style="top:567px;left:1466px;width:102px">Wed 8</div>
<div class="hl" style="top:584px"></div>
<div class="lc su" style="top:585px;height:16px;line-height:15px"><span>Suite 2203</span><b class="dd ds"><i class="ct"></i></b></div>
<div class="q" style="top:585px;line-height:17px">?</div>
<div class="vl" style="top:585px;left:273px;height:16px"></div>
<div class="vl" style="top:585px;left:372px;height:16px"></div>
<div class="vl" style="top:585px;left:472px;height:16px"></div>
<div class="vl" style="top:585px;left:572px;height:16px"></div>
<div class="vl" style="top:585px;left:673px;height:16px"></div>
<div class="vl" style="top:585px;left:773px;height:16px"></div>
<div class="vl" style="top:585px;left:872px;height:16px"></div>
<div class="vl" style="top:585px;left:970px;height:16px"></div>
<div class="vl" style="top:585px;left:1067px;height:16px"></div>
<div class="vl" style="top:585px;left:1167px;height:16px"></div>
<div class="vl" style="top:585px;left:1265px;height:16px"></div>
<div class="vl" style="top:585px;left:1362px;height:16px"></div>
<div class="vl" style="top:585px;left:1465px;height:16px"></div>
<div class="bar b" style="top:586px;left:176px;width:244px">Fernando Vasconcelos</div>
<div class="bar b" style="top:586px;left:423px;width:97px">Ernest Ling</div>
<div class="bar b" style="top:586px;left:623px;width:99px">Kelly Van De</div>
<div class="bar b" style="top:586px;left:725px;width:291px">Liam Michael Heaney</div>
<div class="bar b" style="top:586px;left:1019px;width:196px">Jeffrey Yochim</div>
<div class="bar b" style="top:586px;left:1218px;width:194px">Kerstin Schuster</div>
<div class="bar b" style="top:586px;left:1415px;width:151px">Babak Hooshmand</div>
<div class="hl" style="top:601px"></div>
<div class="lc su" style="top:602px;height:16px;line-height:15px"><span>Suite 3301</span><b class="dd ds"><i class="ct"></i></b></div>
<div class="q" style="top:602px;line-height:17px">?</div>
<div class="vl" style="top:602px;left:273px;height:16px"></div>
<div class="vl" style="top:602px;left:372px;height:16px"></div>
<div class="vl" style="top:602px;left:472px;height:16px"></div>
<div class="vl" style="top:602px;left:572px;height:16px"></div>
<div class="vl" style="top:602px;left:673px;height:16px"></div>
<div class="vl" style="top:602px;left:773px;height:16px"></div>
<div class="vl" style="top:602px;left:872px;height:16px"></div>
<div class="vl" style="top:602px;left:970px;height:16px"></div>
<div class="vl" style="top:602px;left:1067px;height:16px"></div>
<div class="vl" style="top:602px;left:1167px;height:16px"></div>
<div class="vl" style="top:602px;left:1265px;height:16px"></div>
<div class="vl" style="top:602px;left:1362px;height:16px"></div>
<div class="vl" style="top:602px;left:1465px;height:16px"></div>
<div class="bar b" style="top:603px;left:176px;width:144px">Martin Viau</div>
<div class="bar b" style="top:603px;left:323px;width:497px">Joseph Andriulli</div>
<div class="bar b" style="top:603px;left:823px;width:97px">Sarka Cerna</div>
<div class="bar b" style="top:603px;left:923px;width:292px">LEI LI</div>
<div class="bar y" style="top:603px;left:1312px;width:254px">nataly gagnon</div>
<div class="hl" style="top:618px"></div>
<div class="lc su" style="top:619px;height:16px;line-height:15px"><span>Suite 502</span><b class="dd ds"><i class="ct"></i></b></div>
<div class="q" style="top:619px;line-height:17px">?</div>
<div class="vl" style="top:619px;left:273px;height:16px"></div>
<div class="vl" style="top:619px;left:372px;height:16px"></div>
<div class="vl" style="top:619px;left:472px;height:16px"></div>
<div class="vl" style="top:619px;left:572px;height:16px"></div>
<div class="vl" style="top:619px;left:673px;height:16px"></div>
<div class="vl" style="top:619px;left:773px;height:16px"></div>
<div class="vl" style="top:619px;left:872px;height:16px"></div>
<div class="vl" style="top:619px;left:970px;height:16px"></div>
<div class="vl" style="top:619px;left:1067px;height:16px"></div>
<div class="vl" style="top:619px;left:1167px;height:16px"></div>
<div class="vl" style="top:619px;left:1265px;height:16px"></div>
<div class="vl" style="top:619px;left:1362px;height:16px"></div>
<div class="vl" style="top:619px;left:1465px;height:16px"></div>
<div class="bar b" style="top:620px;left:176px;width:244px">Adriana Martinez</div>
<div class="bar b" style="top:620px;left:423px;width:97px">Keerthana Ba</div>
<div class="bar b" style="top:620px;left:523px;width:199px">Abel Garcia Hernandex</div>
<div class="bar b" style="top:620px;left:725px;width:195px">Josephine Gal Buchman</div>
<div class="bar b" style="top:620px;left:923px;width:192px">Richard J Grupka</div>
<div class="bar b" style="top:620px;left:1118px;width:97px">Nicole Hall</div>
<div class="bar b" style="top:620px;left:1312px;width:202px">stephan Meilleur</div>
<div class="bar b" style="top:620px;left:1517px;width:49px">Sandra</div>
<div class="hl" style="top:635px"></div>
<div class="lc cat" style="top:636px;height:17px;line-height:18px"><span>2 Bedroom</span><b class="dd dc"><i class="ct"></i></b></div>
<div class="dc2" style="top:636px;left:175px;width:98px">Thu 26</div>
<div class="vl" style="top:636px;left:273px;height:17px"></div>
<div class="dc2" style="top:636px;left:274px;width:98px">Fri 27</div>
<div class="vl" style="top:636px;left:372px;height:17px"></div>
<div class="dc2" style="top:636px;left:373px;width:99px">Sat 28</div>
<div class="vl" style="top:636px;left:472px;height:17px"></div>
<div class="dc2" style="top:636px;left:473px;width:99px">Sun 29</div>
<div class="vl" style="top:636px;left:572px;height:17px"></div>
<div class="dc2" style="top:636px;left:573px;width:100px">Mon 30</div>
<div class="vl" style="top:636px;left:673px;height:17px"></div>
<div class="dc2" style="top:636px;left:674px;width:99px">Tue 31</div>
<div class="vl" style="top:636px;left:773px;height:17px"></div>
<div class="dc2" style="top:636px;left:774px;width:98px">Wed 1</div>
<div class="vl" style="top:636px;left:872px;height:17px"></div>
<div class="dc2" style="top:636px;left:873px;width:97px">Thu 2</div>
<div class="vl" style="top:636px;left:970px;height:17px"></div>
<div class="dc2" style="top:636px;left:971px;width:96px">Fri 3</div>
<div class="vl" style="top:636px;left:1067px;height:17px"></div>
<div class="dc2" style="top:636px;left:1068px;width:99px">Sat 4</div>
<div class="vl" style="top:636px;left:1167px;height:17px"></div>
<div class="dc2" style="top:636px;left:1168px;width:97px">Sun 5</div>
<div class="vl" style="top:636px;left:1265px;height:17px"></div>
<div class="dc2" style="top:636px;left:1266px;width:96px">Mon 6</div>
<div class="vl" style="top:636px;left:1362px;height:17px"></div>
<div class="dc2" style="top:636px;left:1363px;width:102px">Tue 7</div>
<div class="vl" style="top:636px;left:1465px;height:17px"></div>
<div class="dc2" style="top:636px;left:1466px;width:102px">Wed 8</div>
<div class="hl" style="top:653px"></div>
<div class="lc su" style="top:654px;height:16px;line-height:15px"><span>Suite 1208</span><b class="dd ds"><i class="ct"></i></b></div>
<div class="q" style="top:654px;line-height:17px">?</div>
<div class="vl" style="top:654px;left:273px;height:16px"></div>
<div class="vl" style="top:654px;left:372px;height:16px"></div>
<div class="vl" style="top:654px;left:472px;height:16px"></div>
<div class="vl" style="top:654px;left:572px;height:16px"></div>
<div class="vl" style="top:654px;left:673px;height:16px"></div>
<div class="vl" style="top:654px;left:773px;height:16px"></div>
<div class="vl" style="top:654px;left:872px;height:16px"></div>
<div class="vl" style="top:654px;left:970px;height:16px"></div>
<div class="vl" style="top:654px;left:1067px;height:16px"></div>
<div class="vl" style="top:654px;left:1167px;height:16px"></div>
<div class="vl" style="top:654px;left:1265px;height:16px"></div>
<div class="vl" style="top:654px;left:1362px;height:16px"></div>
<div class="vl" style="top:654px;left:1465px;height:16px"></div>
<div class="bar b" style="top:655px;left:176px;width:46px">Diego</div>
<div class="bar b" style="top:655px;left:225px;width:95px">Philippe Hug</div>
<div class="bar b" style="top:655px;left:323px;width:399px">amy eng</div>
<div class="bar b" style="top:655px;left:725px;width:195px">SEBASTIEN GILLY</div>
<div class="bar s" style="top:655px;left:923px;width:386px">Johnathan Nabosse</div>
<div class="bar b" style="top:655px;left:1415px;width:99px">Sarah Sheeha</div>
<div class="bar b" style="top:655px;left:1517px;width:49px">Adam X</div>
<div class="hl" style="top:670px"></div>
<div class="lc su" style="top:671px;height:16px;line-height:15px"><span>Suite 207</span><b class="dd ds"><i class="ct"></i></b></div>
<div class="q" style="top:671px;line-height:17px">?</div>
<div class="vl" style="top:671px;left:273px;height:16px"></div>
<div class="vl" style="top:671px;left:372px;height:16px"></div>
<div class="vl" style="top:671px;left:472px;height:16px"></div>
<div class="vl" style="top:671px;left:572px;height:16px"></div>
<div class="vl" style="top:671px;left:673px;height:16px"></div>
<div class="vl" style="top:671px;left:773px;height:16px"></div>
<div class="vl" style="top:671px;left:872px;height:16px"></div>
<div class="vl" style="top:671px;left:970px;height:16px"></div>
<div class="vl" style="top:671px;left:1067px;height:16px"></div>
<div class="vl" style="top:671px;left:1167px;height:16px"></div>
<div class="vl" style="top:671px;left:1265px;height:16px"></div>
<div class="vl" style="top:671px;left:1362px;height:16px"></div>
<div class="vl" style="top:671px;left:1465px;height:16px"></div>
<div class="bar b" style="top:672px;left:176px;width:244px">Lotte Kuijpers-Halkes</div>
<div class="bar b" style="top:672px;left:423px;width:299px">John Carney</div>
<div class="bar b" style="top:672px;left:725px;width:390px">Ingrid Devin</div>
<div class="bar b" style="top:672px;left:1118px;width:97px">Martin Jesko</div>
<div class="bar b" style="top:672px;left:1218px;width:348px">Owen and Helen Kane</div>
<div class="hl" style="top:687px"></div>
<div class="lc cat" style="top:688px;height:17px;line-height:18px"><span>1707 (2 Bed)</span><b class="dd dc"><i class="ct"></i></b></div>
<div class="dc2" style="top:688px;left:175px;width:98px">Thu 26</div>
<div class="vl" style="top:688px;left:273px;height:17px"></div>
<div class="dc2" style="top:688px;left:274px;width:98px">Fri 27</div>
<div class="vl" style="top:688px;left:372px;height:17px"></div>
<div class="dc2" style="top:688px;left:373px;width:99px">Sat 28</div>
<div class="vl" style="top:688px;left:472px;height:17px"></div>
<div class="dc2" style="top:688px;left:473px;width:99px">Sun 29</div>
<div class="vl" style="top:688px;left:572px;height:17px"></div>
<div class="dc2" style="top:688px;left:573px;width:100px">Mon 30</div>
<div class="vl" style="top:688px;left:673px;height:17px"></div>
<div class="dc2" style="top:688px;left:674px;width:99px">Tue 31</div>
<div class="vl" style="top:688px;left:773px;height:17px"></div>
<div class="dc2" style="top:688px;left:774px;width:98px">Wed 1</div>
<div class="vl" style="top:688px;left:872px;height:17px"></div>
<div class="dc2" style="top:688px;left:873px;width:97px">Thu 2</div>
<div class="vl" style="top:688px;left:970px;height:17px"></div>
<div class="dc2" style="top:688px;left:971px;width:96px">Fri 3</div>
<div class="vl" style="top:688px;left:1067px;height:17px"></div>
<div class="dc2" style="top:688px;left:1068px;width:99px">Sat 4</div>
<div class="vl" style="top:688px;left:1167px;height:17px"></div>
<div class="dc2" style="top:688px;left:1168px;width:97px">Sun 5</div>
<div class="vl" style="top:688px;left:1265px;height:17px"></div>
<div class="dc2" style="top:688px;left:1266px;width:96px">Mon 6</div>
<div class="vl" style="top:688px;left:1362px;height:17px"></div>
<div class="dc2" style="top:688px;left:1363px;width:102px">Tue 7</div>
<div class="vl" style="top:688px;left:1465px;height:17px"></div>
<div class="dc2" style="top:688px;left:1466px;width:102px">Wed 8</div>
<div class="hl" style="top:705px"></div>
<div class="lc su" style="top:706px;height:16px;line-height:15px"><span>Suite 1707</span><i class="cm"></i><b class="dd ds ci"><i class="ct"></i></b></div>
<div class="q" style="top:706px;line-height:17px">?</div>
<div class="vl" style="top:706px;left:273px;height:16px"></div>
<div class="vl" style="top:706px;left:372px;height:16px"></div>
<div class="vl" style="top:706px;left:472px;height:16px"></div>
<div class="vl" style="top:706px;left:572px;height:16px"></div>
<div class="vl" style="top:706px;left:673px;height:16px"></div>
<div class="vl" style="top:706px;left:773px;height:16px"></div>
<div class="vl" style="top:706px;left:872px;height:16px"></div>
<div class="vl" style="top:706px;left:970px;height:16px"></div>
<div class="vl" style="top:706px;left:1067px;height:16px"></div>
<div class="vl" style="top:706px;left:1167px;height:16px"></div>
<div class="vl" style="top:706px;left:1265px;height:16px"></div>
<div class="vl" style="top:706px;left:1362px;height:16px"></div>
<div class="vl" style="top:706px;left:1465px;height:16px"></div>
<div class="bar r" style="top:707px;left:176px;width:144px">Pani tabeghanoon</div>
<div class="bar r" style="top:707px;left:523px;width:397px">PANOOYEH TABEGHANOON</div>
<div class="bar b" style="top:707px;left:923px;width:386px">Natasha Harding</div>
<div class="bar b" style="top:707px;left:1312px;width:100px">Thomas Bouwm</div>
<div class="bar b" style="top:707px;left:1517px;width:49px">Scott</div>
<div class="hl" style="top:722px"></div>
</div>
</body>
</html>
